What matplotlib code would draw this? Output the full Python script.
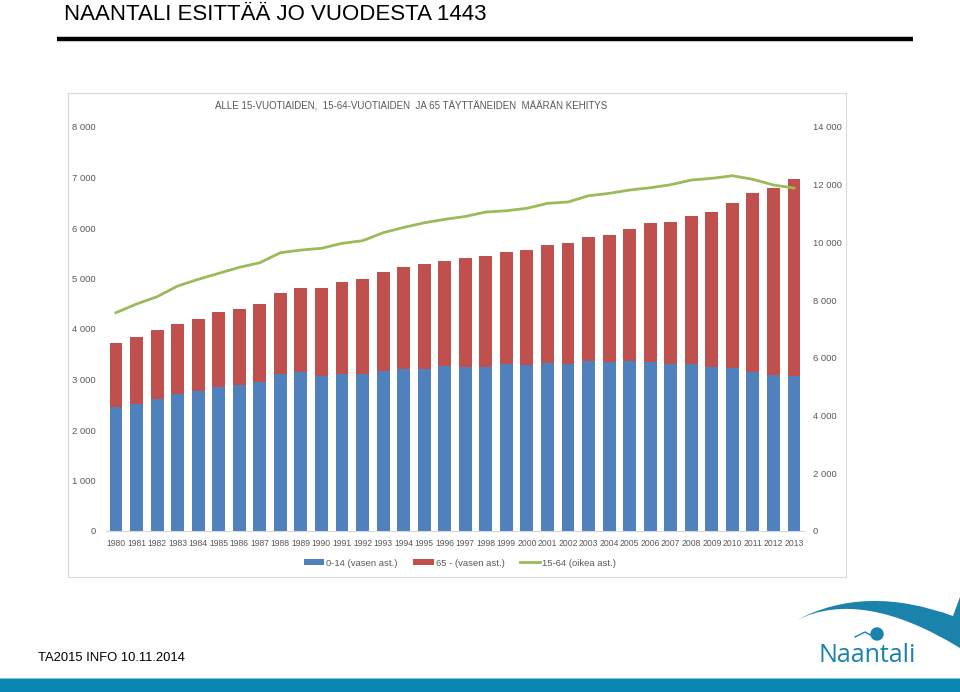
import matplotlib
matplotlib.use('Agg')
import matplotlib.pyplot as plt
from matplotlib.patches import Rectangle, PathPatch
from matplotlib.path import Path
import numpy as np

years = list(range(1980, 2014))
age_0_14 = [2450, 2515, 2620, 2707, 2772, 2851, 2897, 2944, 3103, 3149,
            3075, 3115, 3115, 3162, 3202, 3202, 3267, 3254, 3254, 3300,
            3287, 3333, 3313, 3360, 3340, 3360, 3347, 3307, 3300, 3254,
            3221, 3155, 3096, 3075]
totals_left = [3729, 3848, 3980, 4092, 4191, 4330, 4402, 4501, 4706, 4812,
               4812, 4937, 4997, 5122, 5228, 5281, 5353, 5400, 5446, 5525,
               5558, 5663, 5697, 5822, 5868, 5974, 6105, 6119, 6244, 6317,
               6501, 6693, 6798, 6970]
age_65_plus = [t - c for t, c in zip(totals_left, age_0_14)]
age_15_64 = [7565, 7866, 8119, 8489, 8721, 8929, 9137, 9297, 9643, 9737,
             9796, 9969, 10059, 10336, 10520, 10680, 10800, 10900, 11054, 11098,
             11182, 11355, 11400, 11618, 11700, 11816, 11895, 12000, 12162, 12221,
             12311, 12186, 11989, 11885]

left_ticks = [0, 1000, 2000, 3000, 4000, 5000, 6000, 7000, 8000]
right_ticks = [0, 2000, 4000, 6000, 8000, 10000, 12000, 14000]

BLUE = '#4f81bd'
RED = '#c0504d'
GREEN = '#9bbb59'
GRAY = '#595959'
LOGO = '#1b82ab'

W, H = 960, 692
fig = plt.figure(figsize=(W / 100, H / 100), dpi=100)

# background layer in pixel coordinates for the slide decorations
bg = fig.add_axes([0, 0, 1, 1])
bg.set_xlim(0, W)
bg.set_ylim(H, 0)
bg.axis('off')

bg.text(64, 15, 'NAANTALI ESITTÄÄ JO VUODESTA 1443', fontsize=16,
        family='Liberation Sans', va='center', ha='left')
bg.plot([57, 913], [38.5, 38.5], color='black', lw=3.2, solid_capstyle='butt')

# chart frame
bg.add_patch(Rectangle((68, 93), 778, 484, fill=False, ec='#d9d9d9', lw=0.8))
bg.text(411, 106, 'ALLE 15-VUOTIAIDEN,  15-64-VUOTIAIDEN  JA 65 TÄYTTÄNEIDEN  MÄÄRÄN KEHITYS',
        fontsize=7, color=GRAY, ha='center', va='center', family='Liberation Sans')

# footer
bg.text(38, 658, 'TA2015 INFO 10.11.2014', fontsize=9.4,
        family='Liberation Sans', va='center', ha='left')
bg.add_patch(Rectangle((0, 679), W, 13, color='#0a86b2', lw=0))
bg.plot([0, W], [678, 678], color='#7cc3dc', lw=0.8)

# logo swoosh
verts = [(797, 620), (865, 584), (953, 616), (960, 597), (960, 648),
         (862, 588), (797, 620)]
codes = [Path.MOVETO, Path.CURVE3, Path.CURVE3, Path.LINETO, Path.LINETO,
         Path.CURVE3, Path.CURVE3]
bg.add_patch(PathPatch(Path(verts, codes), fc=LOGO, ec='none'))
bg.text(867, 655, 'Naantali', fontsize=18, color=LOGO, ha='center', va='center',
        family=['Open Sans', 'DejaVu Sans'])
bg.add_patch(plt.Circle((877, 634), 6, color=LOGO))
bg.plot([855, 865, 874], [637, 632, 637], color=LOGO, lw=1)

# main chart
left = 105.7 / W
right = 804.3 / W
bottom = (H - 531) / H
top = (H - 127) / H
ax = fig.add_axes([left, bottom, right - left, top - bottom])
ax.patch.set_alpha(0)
x = np.arange(len(years))
b1 = ax.bar(x, age_0_14, width=0.63, color=BLUE, label='0-14 (vasen ast.)', zorder=2)
b2 = ax.bar(x, age_65_plus, width=0.63, bottom=age_0_14, color=RED,
            label='65 - (vasen ast.)', zorder=2)
ax.set_xlim(-0.5, len(years) - 0.5)
ax.set_ylim(0, 8000)
ax.set_yticks(left_ticks)
ax.set_yticklabels([f'{v:,}'.replace(',', ' ') for v in left_ticks])
ax.set_xticks(x)
ax.set_xticklabels([str(y) for y in years])
for s in ['top', 'right', 'left']:
    ax.spines[s].set_visible(False)
ax.spines['bottom'].set_color('#d9d9d9')
ax.tick_params(axis='both', length=0, colors=GRAY)
ax.tick_params(axis='y', labelsize=6.8, pad=7)
ax.tick_params(axis='x', labelsize=6.2, pad=6)
for lab in ax.get_xticklabels() + ax.get_yticklabels():
    lab.set_family('Liberation Sans')

ax2 = ax.twinx()
ln, = ax2.plot(x, age_15_64, color=GREEN, lw=2, label='15-64 (oikea ast.)', zorder=3)
ax2.set_ylim(0, 14000)
ax2.set_yticks(right_ticks)
ax2.set_yticklabels([f'{v:,}'.replace(',', ' ') for v in right_ticks])
for s in ax2.spines.values():
    s.set_visible(False)
ax2.tick_params(axis='y', length=0, colors=GRAY, labelsize=6.8, pad=6)
for lab in ax2.get_yticklabels():
    lab.set_family('Liberation Sans')

fig.legend(handles=[b1, b2, ln], loc='center', bbox_to_anchor=(460 / W, 1 - 563 / H),
           ncol=3, frameon=False, handlelength=2.2, handleheight=0.5,
           columnspacing=1.6, handletextpad=0.2, labelcolor=GRAY,
           prop={'family': 'Liberation Sans', 'size': 6.8})

fig.savefig('out.png', dpi=100)
